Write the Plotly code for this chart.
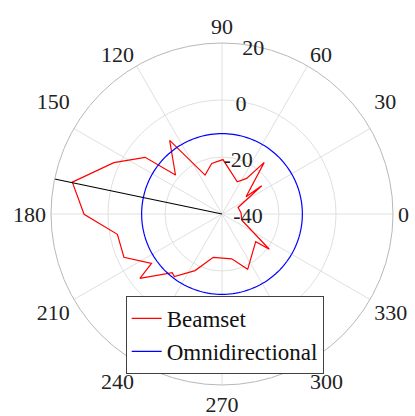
import plotly.graph_objects as go

# ---- data ----
beam_theta = [343.1, 3.0, 22.1, 35.5, 35.8, 50.7, 55.3, 64.6, 89.0, 101.5,
              113.5, 125.4, 140.0, 143.6, 154.6, 168.0, 180.1, 191.0, 203.8,
              215.0, 218.1, 229.7, 232.7, 244.5, 258.6, 282.2, 294.9, 320.6,
              323.3, 343.1]
beam_gain = [-32.8, -33.3, -33.9, -22.9, -29.6, -16.6, -24.8, -27.5, -20.9,
             -21.9, -25.1, -8.3, -18.7, -6.5, 2.0, 13.7, 8.4, -2.6, -2.4,
             -9.8, -3.4, -13.0, -12.4, -18.0, -24.5, -23.9, -18.6, -24.7,
             -19.3, -32.8]

omni_theta = list(range(0, 361, 2))
omni_level = -11.8
omni_gain = [omni_level] * len(omni_theta)

peak_theta = [168.2, 168.2]
peak_gain = [-40, 20]

angle_ticks = [0, 30, 60, 90, 120, 150, 180, 210, 240, 270, 300, 330]
angle_labels = [str(a) for a in angle_ticks]
radial_ticks = [-40, -20, 0, 20]
radial_labels = ["-40", "-20", "0", "20"]

FONT = "Liberation Serif"
NB = "\u00a0"
# leading non-breaking spaces only nudge the label text sideways
radial_pad = {"20": 7, "0": 4, "-20": 0, "-40": 0}
radial_text = [NB * radial_pad[t] + t for t in radial_labels]
# an empty second line lifts the upper diagonal labels a little
angle_text = [t + "<br>" + NB if t in ("30", "150") else t
              for t in angle_labels]

fig = go.Figure()
fig.add_trace(go.Scatterpolar(r=beam_gain, theta=beam_theta, mode="lines",
                              line=dict(color="#ff0000", width=1.2),
                              name="Beamset"))
fig.add_trace(go.Scatterpolar(r=omni_gain, theta=omni_theta, mode="lines",
                              line=dict(color="#0000ff", width=1.2),
                              name="Omnidirectional"))
fig.add_trace(go.Scatterpolar(r=peak_gain, theta=peak_theta, mode="lines",
                              line=dict(color="#000000", width=1.2),
                              showlegend=False, hoverinfo="skip"))

fig.update_layout(
    width=415, height=416,
    margin=dict(l=0, r=0, t=0, b=0),
    paper_bgcolor="white",
    font=dict(family=FONT, size=22, color="#222222"),
    polar=dict(
        domain=dict(x=[51 / 415, 393 / 415], y=[31 / 416, 373 / 416]),
        bgcolor="white",
        angularaxis=dict(
            rotation=0, direction="counterclockwise",
            tickmode="array", tickvals=angle_ticks, ticktext=angle_text,
            showline=True, linecolor="#b8b8b8", linewidth=1,
            gridcolor="#e0e0e0", gridwidth=1, ticks="",
            tickfont=dict(family=FONT, size=22, color="#222222"),
        ),
        radialaxis=dict(
            range=[-40, 20], angle=100, tickangle=100,
            tickmode="array", tickvals=radial_ticks, ticktext=radial_text,
            showline=False, ticks="", gridcolor="#e0e0e0", gridwidth=1,
            tickfont=dict(family=FONT, size=22, color="#222222"),
        ),
    ),
    legend=dict(
        x=125.7 / 415, y=1 - 296 / 416, xanchor="left", yanchor="top",
        bgcolor="white", bordercolor="#404040", borderwidth=1,
        font=dict(family=FONT, size=23, color="#111111"),
        tracegroupgap=0,
    ),
    showlegend=True,
)

fig.write_html("out.html",
               config={"displayModeBar": False},
               post_script="document.body.style.margin='0px';")
